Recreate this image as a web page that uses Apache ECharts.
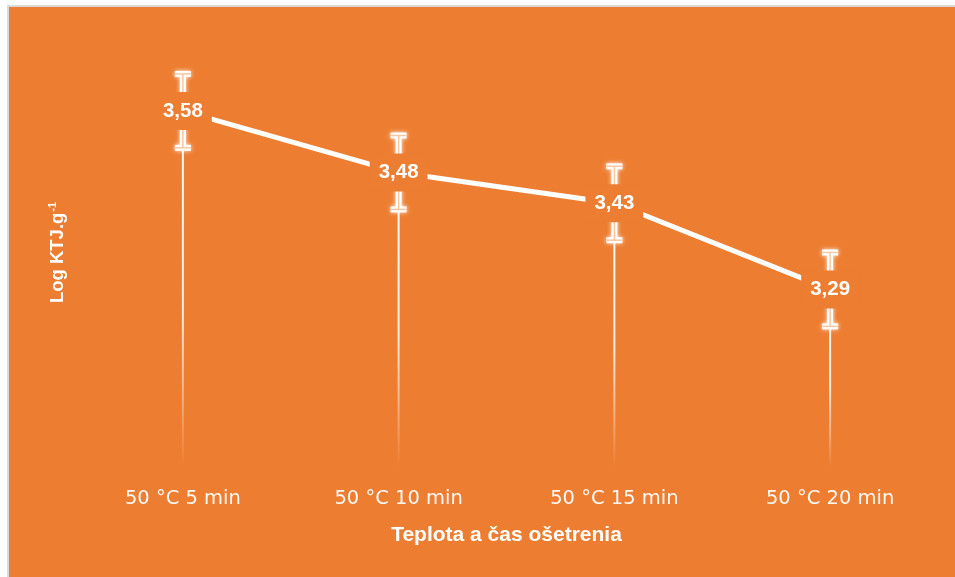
<!DOCTYPE html>
<html>
<head>
<meta charset="utf-8">
<script src="https://cdn.jsdelivr.net/npm/echarts@6/dist/echarts.min.js"></script>
<style>
  html, body { margin: 0; padding: 0; background: #ffffff; width: 955px; height: 577px; overflow: hidden; }
  #frame { position: absolute; left: 7px; top: 5px; border-left: 2px solid #d9d9d9; border-top: 2px solid #d9d9d9; }
  #chart { width: 946px; height: 570px; }
</style>
</head>
<body>
<div id="frame"><div id="chart"></div></div>
<script>
// Treatment groups and mean counts (log CFU per gram)
const categories = ['50 °C 5 min', '50 °C 10 min', '50 °C 15 min', '50 °C 20 min'];
const logCounts = [3.58, 3.48, 3.43, 3.29];
const errors = [0.06, 0.06, 0.06, 0.06];
const yMin = 3.0;
const yMax = 3.7;

const ORANGE = '#ED7D31';

const chart = echarts.init(document.getElementById('chart'));

// drop line from each point down to the bottom of the plot, fading out
function renderDropLine(params, api) {
  const top = api.coord([api.value(0), api.value(1)]);
  const bottom = api.coord([api.value(0), yMin]);
  return {
    type: 'line',
    shape: { x1: top[0], y1: top[1], x2: bottom[0], y2: bottom[1] },
    style: {
      lineWidth: 2,
      stroke: {
        type: 'linear', x: 0, y: top[1], x2: 0, y2: bottom[1], global: true,
        colorStops: [
          { offset: 0, color: 'rgba(255,255,255,1)' },
          { offset: 0.55, color: 'rgba(255,255,255,0.85)' },
          { offset: 1, color: 'rgba(255,255,255,0)' }
        ]
      }
    }
  };
}

// error bar with glowing outline
function renderErrorBar(params, api) {
  const x = api.value(0);
  const hi = api.coord([x, api.value(1)]);
  const lo = api.coord([x, api.value(2)]);
  const cap = 8;
  const segs = [
    [hi[0], hi[1], lo[0], lo[1]],
    [hi[0] - cap, hi[1], hi[0] + cap, hi[1]],
    [lo[0] - cap, lo[1], lo[0] + cap, lo[1]]
  ];
  const children = [];
  segs.forEach(s => {
    children.push({
      type: 'line',
      shape: { x1: s[0], y1: s[1], x2: s[2], y2: s[3] },
      style: { stroke: '#ffffff', lineWidth: 6, lineCap: 'butt', shadowBlur: 4, shadowColor: 'rgba(255,255,255,0.9)' }
    });
  });
  segs.forEach(s => {
    children.push({
      type: 'line',
      shape: { x1: s[0], y1: s[1], x2: s[2], y2: s[3] },
      style: { stroke: '#F7C7A2', lineWidth: 1.5, lineCap: 'butt' }
    });
  });
  return { type: 'group', children: children };
}

chart.setOption({
  backgroundColor: ORANGE,
  animation: false,
  grid: { left: 66, right: 17, top: 30, bottom: 109 },
  xAxis: {
    type: 'category',
    data: categories,
    boundaryGap: true,
    axisLine: { show: false },
    axisTick: { show: false },
    axisLabel: {
      color: 'rgba(255,255,255,0.95)',
      fontFamily: 'DejaVu Sans',
      fontSize: 19.5,
      margin: 21
    },
    name: 'Teplota a čas ošetrenia',
    nameLocation: 'middle',
    nameGap: 57,
    nameTextStyle: {
      color: '#ffffff',
      fontFamily: 'Liberation Sans',
      fontWeight: 'bold',
      fontSize: 21
    }
  },
  yAxis: {
    type: 'value',
    min: yMin,
    max: yMax,
    axisLine: { show: false },
    axisTick: { show: false },
    axisLabel: { show: false },
    splitLine: { show: false },
    name: '{a|Log KTJ.g}{s|-1}',
    nameLocation: 'middle',
    nameRotate: 90,
    nameGap: 6,
    nameTextStyle: {
      color: '#ffffff',
      rich: {
        a: { color: '#ffffff', fontFamily: 'Liberation Sans', fontWeight: 'bold', fontSize: 18.5, lineHeight: 22 },
        s: { color: '#ffffff', fontFamily: 'Liberation Sans', fontWeight: 'bold', fontSize: 11, verticalAlign: 'top', lineHeight: 22, padding: [0, 0, 8, 1] }
      }
    }
  },
  series: [
    {
      type: 'custom',
      z: 1,
      renderItem: renderDropLine,
      data: logCounts.map((v, i) => [i, v]),
      silent: true
    },
    {
      type: 'custom',
      z: 2,
      renderItem: renderErrorBar,
      data: logCounts.map((v, i) => [i, v + errors[i], v - errors[i]]),
      silent: true
    },
    {
      type: 'line',
      z: 5,
      data: logCounts,
      symbol: 'circle',
      symbolSize: 2,
      itemStyle: { color: '#ffffff' },
      lineStyle: { color: '#ffffff', width: 5 },
      label: {
        show: true,
        position: 'inside',
        formatter: p => p.value.toFixed(2).replace('.', ','),
        color: '#ffffff',
        fontFamily: 'Liberation Sans',
        fontWeight: 'bold',
        fontSize: 20.5,
        lineHeight: 22,
        backgroundColor: ORANGE,
        padding: [8, 9, 8, 9]
      }
    }
  ]
});
</script>
</body>
</html>
